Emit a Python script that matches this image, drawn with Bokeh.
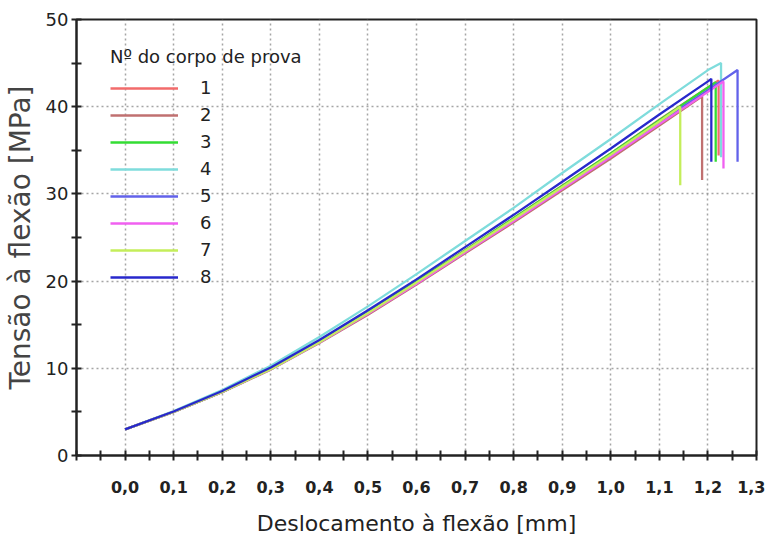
from bokeh.plotting import figure
from bokeh.models import FixedTicker, Legend, LegendItem, CustomJSTickFormatter
from bokeh.embed import file_html
from bokeh.resources import INLINE

# ---- data ----
x_pts = [0.0, 0.1, 0.2, 0.3, 0.4, 0.5, 0.6, 0.7, 0.8, 0.9, 1.0, 1.1, 1.2]

specimens = ["1", "2", "3", "4", "5", "6", "7", "8"]
colors = ["#f26b6b", "#c07070", "#33dd33", "#7fdcdc", "#6262ea", "#f060f0", "#c4ee5a", "#2828cc"]

y_1 = [3.0, 5.0, 7.3, 9.95, 13.1, 16.4, 19.95, 23.55, 27.2, 30.95, 34.65, 38.5, 42.2]
y_2 = [3.0, 5.0, 7.25, 9.85, 12.9, 16.15, 19.6, 23.2, 26.75, 30.4, 34.05, 37.85, 41.5]
y_3 = [3.0, 5.0, 7.3, 9.95, 13.1, 16.4, 19.95, 23.5, 27.2, 30.9, 34.65, 38.45, 42.2]
y_4 = [3.0, 5.1, 7.5, 10.3, 13.6, 17.1, 20.8, 24.6, 28.4, 32.4, 36.3, 40.3, 44.2]
y_5 = [3.0, 5.0, 7.3, 9.9, 13.0, 16.3, 19.8, 23.4, 27.0, 30.7, 34.4, 38.2, 41.9]
y_6 = [3.0, 5.0, 7.3, 9.9, 12.95, 16.25, 19.7, 23.3, 26.9, 30.6, 34.25, 38.0, 41.7]
y_7 = [3.0, 5.0, 7.3, 9.9, 13.0, 16.35, 19.85, 23.45, 27.1, 30.8, 34.5, 38.3]
y_8 = [3.0, 5.05, 7.4, 10.1, 13.25, 16.65, 20.2, 23.9, 27.6, 31.4, 35.2, 39.1, 42.9]

peak_x = [1.222, 1.188, 1.216, 1.227, 1.261, 1.232, 1.143, 1.207]
peak_y = [43.0, 41.2, 42.8, 45.0, 44.2, 42.9, 40.0, 43.2]
drop_y = [34.4, 31.6, 33.7, 34.2, 33.7, 32.9, 31.0, 33.7]

series_y = [y_1, y_2, y_3, y_4, y_5, y_6, y_7, y_8]

x_major = [0.0, 0.1, 0.2, 0.3, 0.4, 0.5, 0.6, 0.7, 0.8, 0.9, 1.0, 1.1, 1.2, 1.3]
x_minor = [-0.1, -0.05, 0.05, 0.15, 0.25, 0.35, 0.45, 0.55, 0.65, 0.75, 0.85, 0.95,
           1.05, 1.15, 1.25]
x_grid = [0.0, 0.1, 0.2, 0.3, 0.4, 0.5, 0.6, 0.7, 0.8, 0.9, 1.0, 1.1, 1.2]
y_major = [0, 10, 20, 30, 40, 50]
y_minor = [5, 15, 25, 35, 45]
y_grid = [10, 20, 30, 40]

FONT = "DejaVu Sans"

p = figure(width=765, height=538, x_range=(-0.1, 1.3), y_range=(0, 50),
           output_backend="svg", toolbar_location=None,
           min_border_left=69, min_border_right=9, min_border_top=19, min_border_bottom=82,
           x_axis_label="Deslocamento à flexão [mm]", y_axis_label="Tensão à flexão [MPa]")

p.background_fill_color = "white"
p.border_fill_color = "white"
p.outline_line_color = "#222222"
p.outline_line_width = 2

# grid
p.xgrid.ticker = FixedTicker(ticks=x_grid)
p.ygrid.ticker = FixedTicker(ticks=y_grid)
for g in (p.xgrid, p.ygrid):
    g.grid_line_color = "#8f8f8f"
    g.grid_line_dash = "2 3"
    g.grid_line_width = 1.5
    g.grid_line_alpha = 0.8

# axes
p.xaxis.ticker = FixedTicker(ticks=x_major, minor_ticks=x_minor)
p.yaxis.ticker = FixedTicker(ticks=y_major, minor_ticks=y_minor)
p.xaxis.formatter = CustomJSTickFormatter(code="return tick.toFixed(1).replace('.', ',');")
for ax in (p.xaxis, p.yaxis):
    ax.axis_line_color = "#222222"
    ax.axis_line_width = 2
    ax.major_tick_line_color = "#222222"
    ax.minor_tick_line_color = "#222222"
    ax.major_tick_line_width = 2
    ax.minor_tick_line_width = 2
    ax.major_tick_in = 5
    ax.major_tick_out = 5
    ax.minor_tick_in = 5
    ax.minor_tick_out = 5
    ax.major_label_text_font = FONT
    ax.major_label_text_color = "#222222"
    ax.axis_label_text_font = FONT
    ax.axis_label_text_font_style = "normal"

p.xaxis.major_label_text_font_size = "16px"
p.xaxis.major_label_text_font_style = "bold"
p.xaxis.major_label_standoff = 20
p.xaxis.axis_label_text_font_size = "22px"
p.xaxis.axis_label_text_color = "#222222"
p.xaxis.axis_label_standoff = 15

p.yaxis.major_label_text_font_size = "18px"
p.yaxis.major_label_standoff = 3
p.yaxis.axis_label_text_font_size = "28px"
p.yaxis.axis_label_text_color = "#444444"
p.yaxis.axis_label_standoff = 6

# curves
items = []
for name, col, ys, px, py, dy in zip(specimens, colors, series_y, peak_x, peak_y, drop_y):
    xs = [x for x in x_pts[:len(ys)] if x < px] + [px, px]
    yv = ys[:len(xs) - 2] + [py, dy]
    r = p.line(xs, yv, line_color=col, line_width=2.3)
    items.append(LegendItem(label=name, renderers=[r]))

legend = Legend(items=items, location=(34, 168), title="Nº do corpo de prova")
legend.title_text_font = FONT
legend.title_text_font_size = "18px"
legend.title_text_font_style = "normal"
legend.title_text_color = "#222222"
legend.title_standoff = 10
legend.label_text_font = FONT
legend.label_text_font_size = "18px"
legend.label_text_color = "#222222"
legend.glyph_width = 68
legend.glyph_height = 20
legend.label_height = 20
legend.label_standoff = 22
legend.spacing = 6
legend.padding = 0
legend.margin = 0
legend.border_line_alpha = 0
legend.background_fill_alpha = 0
p.add_layout(legend, "center")

open("out.html", "w").write(file_html(p, INLINE))
